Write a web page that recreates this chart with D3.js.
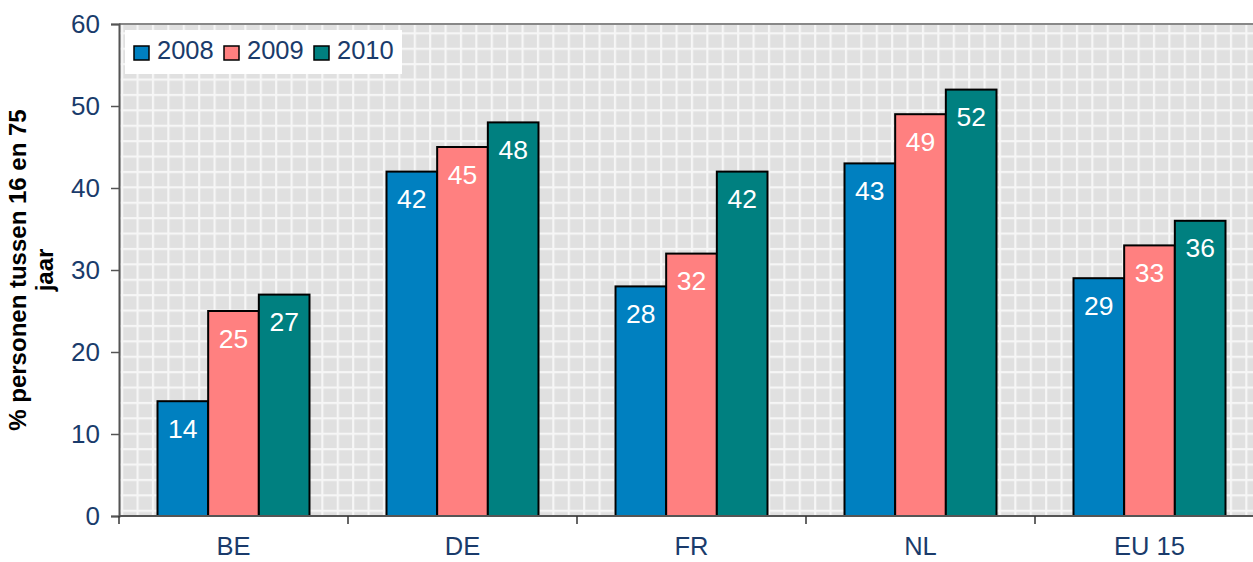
<!DOCTYPE html>
<html>
<head>
<meta charset="utf-8">
<script src="https://cdn.jsdelivr.net/npm/d3@7"></script>
<style>
  body { margin: 0; background: #fff; }
  text { font-family: "Liberation Sans", Arial, sans-serif; }
</style>
</head>
<body>
<svg class="bar_chart" width="1253" height="562"></svg>
<script>
var categories = ["BE", "DE", "FR", "NL", "EU 15"];
var years = ["2008", "2009", "2010"];
var values2008 = [14, 42, 28, 43, 29];
var values2009 = [25, 45, 32, 49, 33];
var values2010 = [27, 48, 42, 52, 36];
var yTicks = [0, 10, 20, 30, 40, 50, 60];
var colors = ["#0080c0", "#ff8080", "#008080"];

var svg = d3.select(".bar_chart");
var margin = { top: 24, left: 119, bottom: 46 };
var plotRight = 1264;
var height = 562 - margin.top - margin.bottom;

var series = [values2008, values2009, values2010];
var data = categories.map(function (c, i) {
	return { cat: c, vals: years.map(function (y, j) { return { year: y, idx: j, v: series[j][i] }; }) };
});

var x = d3.scaleBand().domain(categories).range([margin.left, plotRight]).paddingInner(0).paddingOuter(0);
var x1 = d3.scaleBand().domain(years).range([0, 152]);
var y = d3.scaleLinear().domain([0, 60]).range([margin.top + height, margin.top]);

// hatched grid background
var defs = svg.append("defs");
var pat = defs.append("pattern")
	.attr("id", "grid")
	.attr("patternUnits", "userSpaceOnUse")
	.attr("x", 121.1).attr("y", 16.9)
	.attr("width", 15.4).attr("height", 15.4);
pat.append("rect").attr("width", 15.4).attr("height", 15.4).attr("fill", "#f6f6f6");
pat.append("rect").attr("x", 2.2).attr("y", 2.2).attr("width", 13.2).attr("height", 13.2).attr("fill", "#e0e0e0");

svg.append("rect")
	.attr("x", margin.left).attr("y", margin.top)
	.attr("width", 1253 - margin.left).attr("height", height)
	.attr("fill", "url(#grid)");

// top border
svg.append("line")
	.attr("x1", margin.left).attr("x2", 1253)
	.attr("y1", margin.top).attr("y2", margin.top)
	.attr("stroke", "#888").attr("stroke-width", 2);

// bars
var group = svg.selectAll(".cat")
	.data(data)
	.enter().append("g")
		.attr("class", "cat")
		.attr("transform", function (d) { return "translate(" + (x(d.cat) + x.bandwidth() / 2 - 76) + ",0)"; });

group.selectAll("rect")
	.data(function (d) { return d.vals; })
	.enter().append("rect")
		.attr("x", function (d) { return x1(d.year); })
		.attr("y", function (d) { return y(d.v); })
		.attr("width", x1.bandwidth())
		.attr("height", function (d) { return y(0) - y(d.v); })
		.attr("fill", function (d) { return colors[d.idx]; })
		.attr("stroke", "#000")
		.attr("stroke-width", 2);

group.selectAll(".lbl")
	.data(function (d) { return d.vals; })
	.enter().append("text")
		.attr("class", "lbl")
		.attr("x", function (d) { return x1(d.year) + x1.bandwidth() / 2; })
		.attr("y", function (d) { return y(d.v) + 36.5; })
		.attr("text-anchor", "middle")
		.attr("fill", "#fff")
		.style("font-size", "26.5px")
		.text(function (d) { return d.v; });

// y axis
var yAxis = svg.append("g")
	.attr("transform", "translate(" + margin.left + ",0)")
	.call(d3.axisLeft(y).tickValues(yTicks).tickSize(8).tickPadding(11));
yAxis.select(".domain").attr("stroke", "#555").attr("stroke-width", 2);
yAxis.selectAll(".tick line").attr("stroke", "#555").attr("stroke-width", 1.5);
yAxis.selectAll(".tick text")
	.attr("fill", "#1a3b6b")
	.style("font-size", "26px")
	.style("font-family", "Liberation Sans, Arial, sans-serif");

// x axis
var xAxis = svg.append("g")
	.attr("transform", "translate(0," + y(0) + ")")
	.call(d3.axisBottom(x).tickSize(0).tickPadding(21));
xAxis.select(".domain").remove();
svg.append("line")
	.attr("x1", margin.left).attr("x2", 1253)
	.attr("y1", y(0)).attr("y2", y(0))
	.attr("stroke", "#555").attr("stroke-width", 2);
svg.selectAll(".xtick")
	.data(categories)
	.enter().append("line")
		.attr("class", "xtick")
		.attr("x1", function (d) { return x(d); }).attr("x2", function (d) { return x(d); })
		.attr("y1", y(0)).attr("y2", y(0) + 8)
		.attr("stroke", "#333").attr("stroke-width", 1.5);
xAxis.selectAll(".tick text")
	.attr("fill", "#1a3b6b")
	.style("font-size", "25.5px")
	.style("font-family", "Liberation Sans, Arial, sans-serif");

// y axis title
var title = svg.append("text")
	.attr("transform", "translate(0," + (margin.top + height / 2) + ") rotate(-90)")
	.attr("text-anchor", "middle")
	.style("font-size", "24px")
	.style("font-weight", "bold")
	.attr("fill", "#000");
title.append("tspan").attr("x", 0).attr("y", 26).text("% personen tussen 16 en 75");
title.append("tspan").attr("x", 0).attr("y", 53).text("jaar");

// legend
var legend = svg.append("g").attr("transform", "translate(125,30)");
legend.append("rect").attr("width", 277).attr("height", 44).attr("fill", "#fff");
var item = legend.selectAll(".item")
	.data(years)
	.enter().append("g")
		.attr("class", "item")
		.attr("transform", function (d, i) { return "translate(" + (9 + i * 90) + ",0)"; });
item.append("rect")
	.attr("y", 16).attr("width", 15).attr("height", 14)
	.attr("fill", function (d, i) { return colors[i]; })
	.attr("stroke", "#000").attr("stroke-width", 1.5);
item.append("text")
	.attr("x", 23).attr("y", 29)
	.attr("fill", "#1a3b6b")
	.style("font-size", "25.5px")
	.text(function (d) { return d; });
</script>
</body>
</html>
